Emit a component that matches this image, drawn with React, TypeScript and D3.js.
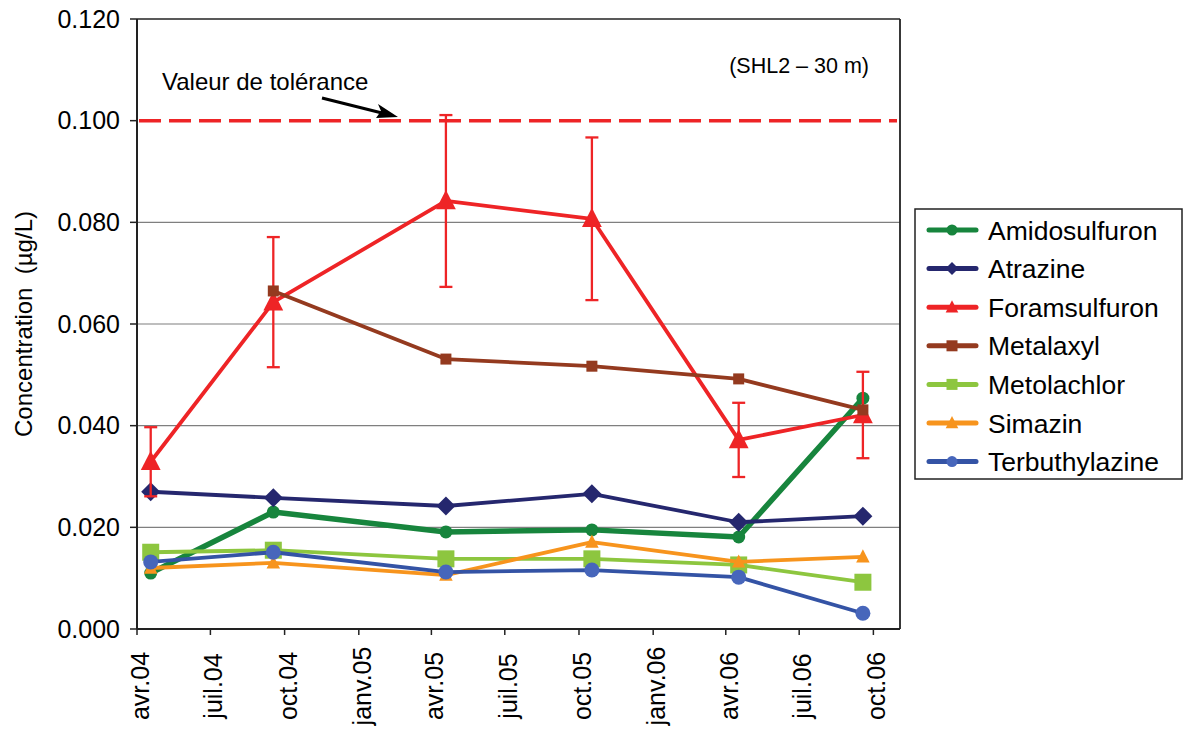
import React from "react";
import * as d3 from "d3";

const dates = ["2004-04-18", "2004-09-17", "2005-04-19", "2005-10-17", "2006-04-17", "2006-09-18"];
const tickDates = ["2004-04-01", "2004-07-01", "2004-10-01", "2005-01-01", "2005-04-01", "2005-07-01", "2005-10-01", "2006-01-01", "2006-04-01", "2006-07-01", "2006-10-01"];
const tickLabels = ["avr.04", "juil.04", "oct.04", "janv.05", "avr.05", "juil.05", "oct.05", "janv.06", "avr.06", "juil.06", "oct.06"];
const yTicks = [0, 0.02, 0.04, 0.06, 0.08, 0.1, 0.12];

const amidosulfuron = [0.011, 0.023, 0.0191, 0.0195, 0.0181, 0.0454];
const atrazine = [0.027, 0.0258, 0.0242, 0.0266, 0.021, 0.0222];
const foramsulfuron = [0.0329, 0.0643, 0.0842, 0.0807, 0.0372, 0.0421];
const foramsulfuronErr = [0.0068, 0.0128, 0.0169, 0.016, 0.0073, 0.0085];
const metalaxyl = [null, 0.0665, 0.0531, 0.0517, 0.0492, 0.0431];
const metolachlor = [0.0151, 0.0155, 0.0138, 0.0138, 0.0126, 0.0092];
const simazin = [0.012, 0.013, 0.0106, 0.0171, 0.0132, 0.0142];
const terbuthylazine = [0.0132, 0.0151, 0.0112, 0.0116, 0.0102, 0.0031];
const tolerance = 0.1;

type S = { name: string; values: (number | null)[]; color: string; mcolor: string; width: number; marker: string; size: number; err?: number[] };

const series: S[] = [
  { name: "Amidosulfuron", values: amidosulfuron, color: "#17853d", mcolor: "#17853d", width: 5.5, marker: "circle", size: 6.5 },
  { name: "Atrazine", values: atrazine, color: "#25276e", mcolor: "#25276e", width: 3.8, marker: "diamond", size: 9.5 },
  { name: "Foramsulfuron", values: foramsulfuron, color: "#ee2426", mcolor: "#ee2426", width: 3.8, marker: "triangle", size: 11 },
  { name: "Metalaxyl", values: metalaxyl, color: "#943a1f", mcolor: "#943a1f", width: 3.8, marker: "square", size: 5.5 },
  { name: "Metolachlor", values: metolachlor, color: "#8dc63f", mcolor: "#8dc63f", width: 3.8, marker: "square", size: 8.5 },
  { name: "Simazin", values: simazin, color: "#f7941d", mcolor: "#f7941d", width: 3.8, marker: "triangle", size: 7.5 },
  { name: "Terbuthylazine", values: terbuthylazine, color: "#3453a5", mcolor: "#4766bb", width: 3.8, marker: "circle", size: 7.5 },
];
series[2].err = foramsulfuronErr;

const parse = d3.timeParse("%Y-%m-%d");

function Marker({ type, x, y, s, color }: { type: string; x: number; y: number; s: number; color: string }) {
  if (type === "circle") return <circle cx={x} cy={y} r={s} fill={color} />;
  if (type === "square") return <rect x={x - s} y={y - s} width={2 * s} height={2 * s} fill={color} />;
  if (type === "diamond") return <path d={`M${x},${y - s}L${x + s},${y}L${x},${y + s}L${x - s},${y}Z`} fill={color} />;
  return <path d={`M${x},${y - s}L${x + s * 0.9},${y + s * 0.75}L${x - s * 0.9},${y + s * 0.75}Z`} fill={color} />;
}

export default function App() {
  const W = 1184, H = 733;
  const left = 137, right = 900, top = 19, bottom = 629;
  const x = d3.scaleTime().domain([parse("2004-04-01")!, parse("2006-11-03")!]).range([left, right]);
  const y = d3.scaleLinear().domain([0, 0.12]).range([bottom, top]);
  const font = "'Liberation Sans', Arial, sans-serif";

  const lineGen = (vals: (number | null)[]) =>
    d3.line<number>()
      .defined((_, i) => vals[i] != null)
      .x((_, i) => x(parse(dates[i])!))
      .y((_, i) => y(vals[i] as number))(vals.map((v) => (v == null ? 0 : v)));

  const legX = 915, legY = 209, legW = 267, legH = 270;
  const rowY = (i: number) => 230 + i * 38.6;

  return (
    <svg width={W} height={H} style={{ position: "absolute", left: 0, top: 0, background: "#fff" }} fontFamily={font}>
      <rect x={0} y={0} width={W} height={H} fill="#fff" />
      {yTicks.filter((t) => t > 0 && t < 0.1).map((t) => (
        <line key={t} x1={left} x2={right} y1={y(t)} y2={y(t)} stroke="#7f7f7f" strokeWidth={1.2} />
      ))}
      <line x1={left} x2={right} y1={top} y2={top} stroke="#222" strokeWidth={1.5} />
      <line x1={right} x2={right} y1={top} y2={bottom} stroke="#222" strokeWidth={1.8} />
      <line x1={left} x2={left} y1={top} y2={bottom} stroke="#222" strokeWidth={2} />
      <line x1={left} x2={right} y1={bottom} y2={bottom} stroke="#222" strokeWidth={2} />
      {yTicks.map((t) => (
        <g key={t}>
          <line x1={left - 7} x2={left} y1={y(t)} y2={y(t)} stroke="#222" strokeWidth={1.5} />
          <text x={120} y={y(t)} dy="0.35em" textAnchor="end" fontSize={25} fill="#000">{d3.format(".3f")(t)}</text>
        </g>
      ))}
      {tickDates.map((d, i) => {
        const tx = x(parse(d)!);
        return (
          <g key={d}>
            <line x1={tx} x2={tx} y1={bottom} y2={bottom + 6} stroke="#222" strokeWidth={1.5} />
            <text transform={`translate(${tx + 12},686) rotate(-90)`} textAnchor="middle" fontSize={25} fill="#000">{tickLabels[i]}</text>
          </g>
        );
      })}
      <text transform="translate(32,324) rotate(-90)" textAnchor="middle" fontSize={24} fill="#000" style={{ whiteSpace: "pre" }}>{"Concentration  (µg/L)"}</text>
      <line x1={left + 2} x2={right - 3} y1={y(tolerance)} y2={y(tolerance)} stroke="#ee2426" strokeWidth={3.5} strokeDasharray="22,8" />
      <text x={162} y={90} fontSize={24} fill="#000">Valeur de tolérance</text>
      <line x1={322} y1={98} x2={392} y2={115.5} stroke="#000" strokeWidth={3} />
      <path d="M398,117 L378,104 L381,111 L376,118 Z" fill="#000" />
      <text x={869} y={73} textAnchor="end" fontSize={21.5} fill="#000">(SHL2 – 30 m)</text>
      {series.map((s) => (
        <g key={s.name}>
          {s.err && s.values.map((v, i) => {
            if (v == null) return null;
            const cx = x(parse(dates[i])!);
            const y1 = y(v + s.err![i]), y2 = y(v - s.err![i]);
            return (
              <g key={i} stroke={s.color} strokeWidth={2.3}>
                <line x1={cx} x2={cx} y1={y1} y2={y2} />
                <line x1={cx - 6.5} x2={cx + 6.5} y1={y1} y2={y1} />
                <line x1={cx - 6.5} x2={cx + 6.5} y1={y2} y2={y2} />
              </g>
            );
          })}
          <path d={lineGen(s.values) || ""} fill="none" stroke={s.color} strokeWidth={s.width} strokeLinejoin="round" />
          {s.values.map((v, i) =>
            v == null ? null : (
              <Marker key={i} type={s.marker} x={x(parse(dates[i])!)} y={y(v)} s={s.size} color={s.mcolor} />
            )
          )}
        </g>
      ))}
      <rect x={legX} y={legY} width={legW} height={legH} fill="#fff" stroke="#222" strokeWidth={1.5} />
      {series.map((s, i) => (
        <g key={s.name}>
          <line x1={929} x2={976} y1={rowY(i)} y2={rowY(i)} stroke={s.color} strokeWidth={5} strokeLinecap="round" />
          <Marker type={s.marker} x={952} y={rowY(i)} s={s.marker === "diamond" ? 6.5 : s.marker === "triangle" ? 7 : 5.5} color={s.mcolor} />
          <text x={988} y={rowY(i)} dy="0.36em" fontSize={26.5} fill="#000">{s.name}</text>
        </g>
      ))}
    </svg>
  );
}
